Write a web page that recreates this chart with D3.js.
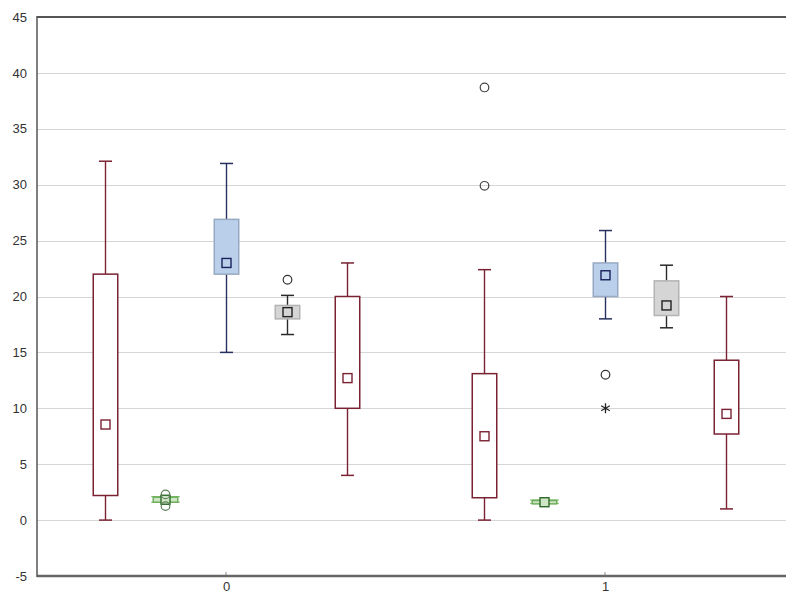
<!DOCTYPE html>
<html><head><meta charset="utf-8">
<script src="https://cdn.jsdelivr.net/npm/d3@7"></script>
<style>body{margin:0;background:#fff}svg{display:block}text{font-family:"Liberation Sans",Arial,sans-serif}</style>
</head><body>
<svg id="c" width="786" height="596"></svg>
<script>
// ---- data ----
const groups = [0, 1];
const yTicks = [-5, 0, 5, 10, 15, 20, 25, 30, 35, 40, 45];
const xTicks = [0, 1];
const seriesNames = ["S1", "S2", "S3", "S4", "S5"];
const seriesOffset = [-2, -1, 0, 1, 2];
// per series: [group0, group1]
const whiskerLow  = [[0, 0], [1.6, 1.5], [15, 18], [16.6, 17.2], [4, 1]];
const q1          = [[2.2, 2.0], [1.6, 1.45], [22, 20], [18.0, 18.3], [10, 7.7]];
const means       = [[8.55, 7.5], [1.82, 1.6], [23, 21.9], [18.6, 19.2], [12.7, 9.5]];
const q3          = [[22, 13.1], [2.05, 1.75], [26.9, 23], [19.2, 21.4], [20, 14.3]];
const whiskerHigh = [[32.1, 22.4], [2.1, 1.8], [31.9, 25.9], [20.1, 22.8], [23, 20]];
const outliers    = [[[], [38.7, 29.9]], [[2.3, 1.25], []], [[], [13]], [[21.5], []], [[], []]];
const extremes    = [[[], []], [[], []], [[], [10]], [[], []], [[], []]];

const styles = [
  {fill: "#ffffff", stroke: "#7a2232", whisker: "#7a2232", mean: "#7a2232", out: "#444"},
  {fill: "#cfe6c6", stroke: "#6fae5c", whisker: "#7dbb68", mean: "#2f6a2c", out: "#5f7f5a"},
  {fill: "#b9cfea", stroke: "#97a9c0", whisker: "#27305e", mean: "#1b215c", out: "#333"},
  {fill: "#d5d5d5", stroke: "#b3b3b3", whisker: "#2a2a2a", mean: "#222", out: "#333"},
  {fill: "#ffffff", stroke: "#7a2232", whisker: "#7a2232", mean: "#7a2232", out: "#444"}
];

// ---- layout ----
const svg = d3.select("#c");
const L = 37, T = 17, B = 576;
const y = d3.scaleLinear().domain([-5, 45]).range([B, T]);
const x = d3.scaleLinear().domain([-0.5, 1.5]).range([36.5, 794.5]);
const step = (x(1) - x(0)) / 6.25;
const boxW = 24.5, capW = 13;

// gridlines
svg.append("g").selectAll("line").data(yTicks.filter(t => t > -5 && t < 45)).join("line")
  .attr("x1", L).attr("x2", 786).attr("y1", d => Math.round(y(d)) + 0.5).attr("y2", d => Math.round(y(d)) + 0.5)
  .attr("stroke", "#d6d6d6").attr("stroke-width", 1);

// y axis labels
const yAxis = d3.axisLeft(y).tickValues(yTicks).tickFormat(d => String(d)).tickSize(0).tickPadding(10);
const ga = svg.append("g").attr("transform", `translate(${L},0)`).call(yAxis);
ga.select(".domain").remove();
ga.selectAll("text").attr("font-size", 13).attr("fill", "#333").attr("font-family", "Liberation Sans, Arial, sans-serif");

// x axis
const xAxis = d3.axisBottom(x).tickValues(xTicks).tickFormat(d => String(d)).tickSize(0).tickPadding(6);
const gx = svg.append("g").attr("transform", `translate(0,${B})`).call(xAxis);
gx.select(".domain").remove();
gx.selectAll("text").attr("font-size", 13).attr("fill", "#333").attr("font-family", "Liberation Sans, Arial, sans-serif");
svg.append("g").selectAll("line").data(xTicks).join("line")
  .attr("x1", d => x(d)).attr("x2", d => x(d)).attr("y1", B).attr("y2", B - 4)
  .attr("stroke", "#888");

// frame
svg.append("line").attr("x1", L).attr("x2", 786).attr("y1", T).attr("y2", T).attr("stroke", "#555").attr("stroke-width", 2);
svg.append("line").attr("x1", L).attr("x2", 786).attr("y1", B).attr("y2", B).attr("stroke", "#666").attr("stroke-width", 2.5);
svg.append("line").attr("x1", L).attr("x2", L).attr("y1", T - 1).attr("y2", B + 1).attr("stroke", "#555").attr("stroke-width", 1.5);

// boxes
const plot = svg.append("g");
seriesNames.forEach((s, si) => {
  const st = styles[si];
  groups.forEach((g, gi) => {
    const cx = Math.round(x(g) + seriesOffset[si] * step) + 0.5;
    const gg = plot.append("g");
    gg.append("line").attr("x1", cx).attr("x2", cx).attr("y1", y(q3[si][gi])).attr("y2", y(whiskerHigh[si][gi])).attr("stroke", st.whisker).attr("stroke-width", 1.4);
    gg.append("line").attr("x1", cx).attr("x2", cx).attr("y1", y(q1[si][gi])).attr("y2", y(whiskerLow[si][gi])).attr("stroke", st.whisker).attr("stroke-width", 1.4);
    if (si === 1) {
      [whiskerHigh[si][gi], whiskerLow[si][gi]].forEach(v => {
        gg.append("line").attr("x1", cx - boxW / 2 - 2).attr("x2", cx + boxW / 2 + 2).attr("y1", y(v)).attr("y2", y(v)).attr("stroke", st.whisker).attr("stroke-width", 1.2);
      });
    } else {
      [whiskerHigh[si][gi], whiskerLow[si][gi]].forEach(v => {
        gg.append("line").attr("x1", cx - capW / 2).attr("x2", cx + capW / 2).attr("y1", y(v)).attr("y2", y(v)).attr("stroke", st.whisker).attr("stroke-width", 1.5);
      });
    }
    gg.append("rect").attr("x", cx - boxW / 2).attr("width", boxW)
      .attr("y", y(q3[si][gi])).attr("height", Math.max(2, y(q1[si][gi]) - y(q3[si][gi])))
      .attr("fill", st.fill).attr("stroke", st.stroke).attr("stroke-width", 1.5);
    const ms = 9;
    gg.append("rect").attr("x", cx - ms / 2).attr("y", y(means[si][gi]) - ms / 2).attr("width", ms).attr("height", ms)
      .attr("fill", si === 1 ? "#cfe6c6" : "none").attr("stroke", st.mean).attr("stroke-width", 1.4);
    outliers[si][gi].forEach(v => {
      gg.append("circle").attr("cx", cx).attr("cy", y(v)).attr("r", 4.3).attr("fill", "none").attr("stroke", st.out).attr("stroke-width", 1.2);
    });
    extremes[si][gi].forEach(v => {
      const cy = y(v), r = 5;
      const p = d3.path();
      for (let a = 0; a < 3; a++) {
        const ang = Math.PI / 2 + a * Math.PI / 3;
        p.moveTo(cx + r * Math.cos(ang), cy + r * Math.sin(ang));
        p.lineTo(cx - r * Math.cos(ang), cy - r * Math.sin(ang));
      }
      gg.append("path").attr("d", p.toString()).attr("stroke", "#222").attr("stroke-width", 1.3).attr("fill", "none");
    });
  });
});
</script>
</body></html>
